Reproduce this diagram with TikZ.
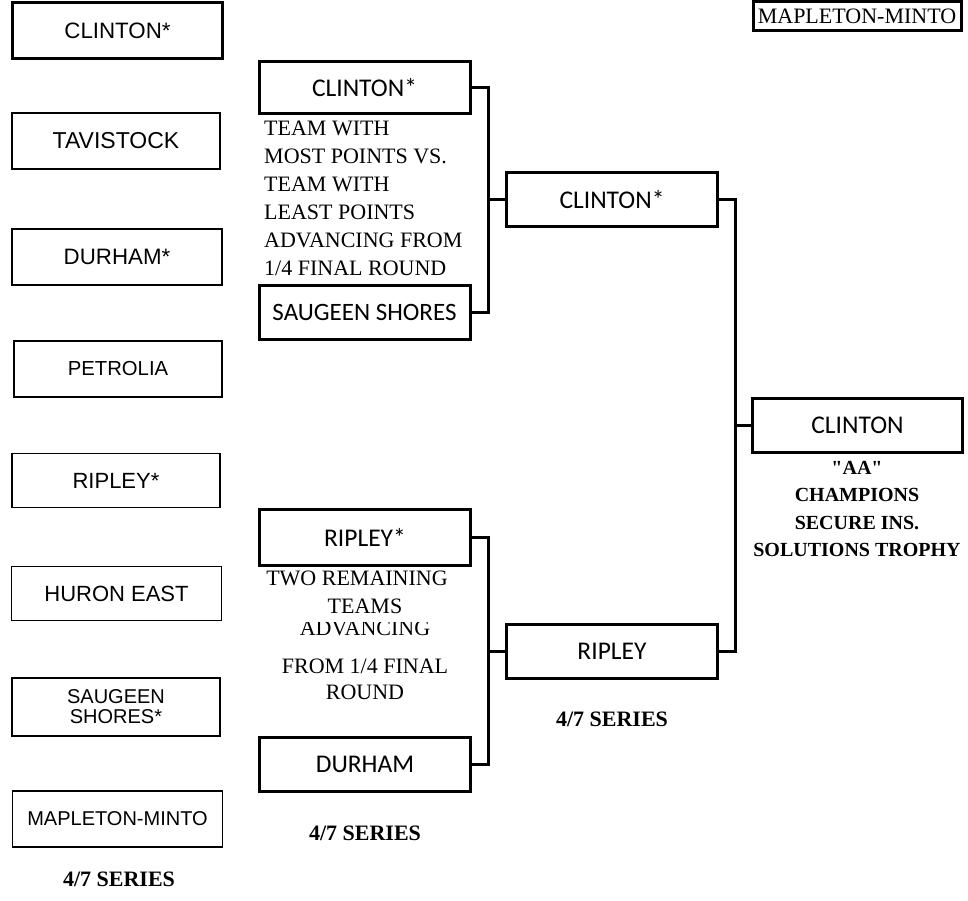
\documentclass[tikz,border=0pt]{standalone}
\usepackage{fontspec}
\setmainfont{Liberation Serif}
\newfontfamily\plainserif{Liberation Serif}
\newfontfamily\lsans{Liberation Sans}
\newfontfamily\calib{Carlito}
\begin{document}
\begin{tikzpicture}[x=1pt,y=-1pt,
  lbox/.style={draw, line width=1.5pt, inner sep=0pt, align=center,
    minimum width=208pt, minimum height=56pt, font=\lsans\fontsize{22.3}{22.3}\selectfont},
  mbox/.style={draw, line width=3pt, inner sep=0pt, align=center,
    minimum width=211pt, minimum height=54pt, font=\calib\fontsize{25.5}{25.5}\selectfont},
  link/.style={line width=3pt},
  note/.style={inner sep=0pt, font=\fontsize{22}{22}\selectfont},
  series/.style={inner sep=0pt, font=\bfseries\fontsize{22}{22}\selectfont}]
\useasboundingbox (0,0) rectangle (968,901);
% left column
\node[lbox, line width=3pt, minimum width=210pt] (l1) at (117.5,31) {CLINTON*};
\node[lbox, font=\lsans\fontsize{23}{23}\selectfont] (l2) at (116,141) {TAVISTOCK};
\node[lbox, minimum width=210pt] (l3) at (117,257) {DURHAM*};
\node[lbox, font=\lsans\fontsize{20.3}{20.3}\selectfont] (l4) at (118,369) {PETROLIA};
\node[lbox, minimum height=54pt, font=\lsans\fontsize{22}{22}\selectfont] (l5) at (116,480.5) {RIPLEY*};
\node[lbox, minimum width=210pt, minimum height=54pt, font=\lsans\fontsize{22}{22}\selectfont] (l6) at (116.5,593.5) {HURON EAST};
\node[lbox, minimum height=58pt, font=\lsans\fontsize{20}{20}\selectfont] (l7) at (116,707) {SAUGEEN\\SHORES*};
\node[lbox, minimum width=210pt, font=\lsans\fontsize{20}{20}\selectfont] (l8) at (117.5,819) {MAPLETON-MINTO};
\node[series] (s47a) at (119,879) {4/7 SERIES};
% semi-final round
\node[mbox, minimum height=52pt] (m1) at (364.5,87.5) {CLINTON*};
\node[mbox, font=\calib\fontsize{25}{25}\selectfont] (m2) at (364.5,312) {SAUGEEN SHORES};
\node[mbox, minimum height=56pt] (m3) at (365,537.5) {RIPLEY*};
\node[mbox] (m4) at (365,764) {DURHAM};
\node[note, anchor=north west, align=left, font=\fontsize{22}{28}\selectfont] (t1) at (264,120.5)
  {TEAM WITH\\MOST POINTS VS.\\TEAM WITH\\LEAST POINTS\\ADVANCING FROM\\1/4 FINAL ROUND};
\node[note] (t2a) at (357,578) {TWO REMAINING};
\node[note] (t2b) at (365,606) {TEAMS};
\begin{scope}
  \clip (290,622.5) rectangle (440,650);
  \node[note] (t2c) at (365,628) {ADVANCING};
\end{scope}
\node[note] (t2d) at (365,666) {FROM 1/4 FINAL};
\node[note] (t2e) at (365,692) {ROUND};
\node[series] (s47b) at (365,833) {4/7 SERIES};
% final round
\node[mbox] (f1) at (612,200) {CLINTON*};
\node[mbox] (f2) at (612,651) {RIPLEY};
\node[series] (s47c) at (612,719) {4/7 SERIES};
% champion
\node[mbox, minimum width=210pt] (ch) at (857.5,425.5) {CLINTON};
\node[inner sep=0pt, anchor=north, align=center, font=\plainserif\bfseries\fontsize{20}{27.3}\selectfont] (cht) at (857,461)
  {"AA"\\CHAMPIONS\\SECURE INS.\\SOLUTIONS TROPHY};
\node[draw, line width=3pt, inner sep=0pt, minimum width=208pt, minimum height=29pt,
  font=\fontsize{22}{22}\selectfont] (mm) at (857,16) {MAPLETON-MINTO};
% connectors
\coordinate (j1) at (488,200);
\coordinate (j2) at (488,651);
\coordinate (j3) at (735,425.5);
\draw[link] (m1.east) -- (m1.east -| j1) -- (m2.east -| j1) -- (m2.east);
\draw[link] (j1) -- (f1.west);
\draw[link] (m3.east) -- (m3.east -| j2) -- (m4.east -| j2) -- (m4.east);
\draw[link] (j2) -- (f2.west);
\draw[link] (f1.east) -- (f1.east -| j3) -- (f2.east -| j3) -- (f2.east);
\draw[link] (j3) -- (ch.west);
\end{tikzpicture}
\end{document}
